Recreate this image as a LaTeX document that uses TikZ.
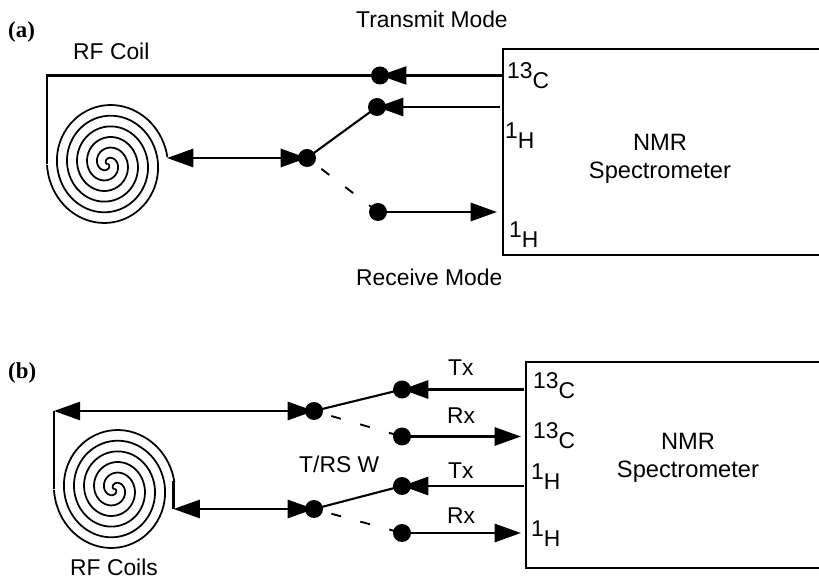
\documentclass[tikz,border=0pt]{standalone}
\usepackage{fontspec}
\setmainfont{Liberation Sans}
\newfontfamily\panelfont{Liberation Serif}
\usetikzlibrary{arrows.meta, backgrounds}
\tikzset{>={Triangle[width=5.4mm,length=7.9mm]}}
\tikzset{
    dot/.style={circle, fill=black, inner sep=0pt, minimum size=5.4mm},
    wire/.style={line width=2.5pt},
    thinwire/.style={line width=1.8pt},
    dashwire/.style={line width=1.6pt, dash pattern=on 3mm off 6mm, dash phase=3.6mm},
    coilline/.style={line width=1.5pt},
    lbl/.style={inner sep=0pt, anchor=base west, font=\fontsize{19.5}{24}\selectfont},
    nmr/.style={inner sep=0pt, align=center, font=\fontsize{20.2}{23.9}\selectfont},
    panel/.style={inner sep=0pt, anchor=base west, font=\fontsize{19.5}{24}\panelfont\bfseries}
}
\newcommand{\nuc}[2]{\raisebox{3.2mm}{#1}#2}
\newcommand{\coilplot}[3]{%
    \draw[coilline, line join=round] plot[domain=0:3, samples=240]
        ({#1+20.2*\x*cos(180+360*(3-\x))}, {#2-1.06*20.2*\x*sin(180+360*(3-\x))});
    \draw[coilline, line join=round] plot[domain=0:#3, samples=240]
        ({#1+20.2*\x*cos(360*(3-\x))}, {#2-1.06*20.2*\x*sin(360*(3-\x))});
}
\begin{document}
\begin{tikzpicture}[x=0.3mm, y=-0.3mm]
    \useasboundingbox (0,0) rectangle (819,580);

    % panel a
    \node[panel] (labA) at (8,38) {(a)};
    \node[lbl] (coilA) at (73,60) {RF Coil};
    \node[lbl] (transmit) at (356,28) {Transmit Mode};
    \node[lbl] (receive) at (356,286) {Receive Mode};
    \node[nmr] (specA) at (660,158.5) {NMR\\Spectrometer};
    \node[lbl] (cA) at (507,89) {\nuc{13}{C}};
    \node[lbl] (hA) at (505,149) {\nuc{1}{H}};
    \node[lbl] (hhA) at (509,248) {\nuc{1}{H}};

    \node[dot] (swA) at (307,158) {};
    \node[dot] (dotCA) at (380,75.5) {};
    \node[dot] (dotTA) at (377,107) {};
    \node[dot] (dotRA) at (378,212) {};

    \coordinate (leftA) at (46.9,164);
    \coordinate (tipA) at (167,158);
    \coordinate (portCA) at (502,75.5);
    \coordinate (portTA) at (500,107);
    \coordinate (portRA) at (497,212);

    \coilplot{107.5}{164}{2.985}
    \draw[thinwire] (819,49) -- (503,49) -- (503,255) -- (819,255);

    \begin{scope}[on background layer]
        \draw[thinwire] (dotCA.center) -| (leftA);
        \draw[thinwire, ->] (portCA) -- (dotCA.center);
        \draw[wire, ->] (portTA) -- (dotTA.center);
        \draw[thinwire] (swA.center) -- (dotTA.center);
        \draw[dashwire] (swA.center) -- (dotRA.center);
        \draw[wire, ->] (dotRA.center) -- (portRA);
        \draw[wire, <->] (tipA) -- (swA.center);
    \end{scope}

    % panel b
    \node[panel] (labB) at (8,379) {(b)};
    \node[lbl] (coilB) at (70,576) {RF Coils};
    \node[lbl] (trsw) at (299,473) {T/RS W};
    \node[lbl] (txC) at (448,376) {Tx};
    \node[lbl] (rxC) at (447,424) {Rx};
    \node[lbl] (txH) at (448,479) {Tx};
    \node[lbl] (rxH) at (447,524) {Rx};
    \node[nmr] (specB) at (688,457.5) {NMR\\Spectrometer};
    \node[lbl] (cB) at (533,399) {\nuc{13}{C}};
    \node[lbl] (ccB) at (533,449) {\nuc{13}{C}};
    \node[lbl] (hB) at (531,490) {\nuc{1}{H}};
    \node[lbl] (hhB) at (531,547) {\nuc{1}{H}};

    \node[dot] (swC) at (314,411) {};
    \node[dot] (dotTC) at (402,389.5) {};
    \node[dot] (dotRC) at (402,436.5) {};
    \node[dot] (swH) at (314,509) {};
    \node[dot] (dotTH) at (402,486) {};
    \node[dot] (dotRH) at (402,533) {};

    \coordinate (leftB) at (53.9,489);
    \coordinate (cornerB) at (53.9,411);
    \coordinate (endB) at (173.5,481);
    \coordinate (tipB) at (173.5,509);
    \coordinate (portTC) at (524,389.5);
    \coordinate (portRC) at (521,436.5);
    \coordinate (portTH) at (524,486);
    \coordinate (portRH) at (521,533);

    \coilplot{114.5}{489}{2.985}
    \draw[thinwire] (819,362) -- (526,362) -- (526,568) -- (819,568);

    \begin{scope}[on background layer]
        \draw[thinwire] (cornerB) -- (leftB);
        \draw[wire, <->] (cornerB) -- (swC.center);
        \draw[thinwire] (endB) -- (tipB);
        \draw[wire, <->] (tipB) -- (swH.center);
        \draw[thinwire] (swC.center) -- (dotTC.center);
        \draw[dashwire] (swC.center) -- (dotRC.center);
        \draw[thinwire] (swH.center) -- (dotTH.center);
        \draw[dashwire] (swH.center) -- (dotRH.center);
        \draw[wire, ->] (portTC) -- (dotTC.center);
        \draw[wire, ->] (dotRC.center) -- (portRC);
        \draw[wire, ->] (portTH) -- (dotTH.center);
        \draw[wire, ->] (dotRH.center) -- (portRH);
    \end{scope}
\end{tikzpicture}
\end{document}
